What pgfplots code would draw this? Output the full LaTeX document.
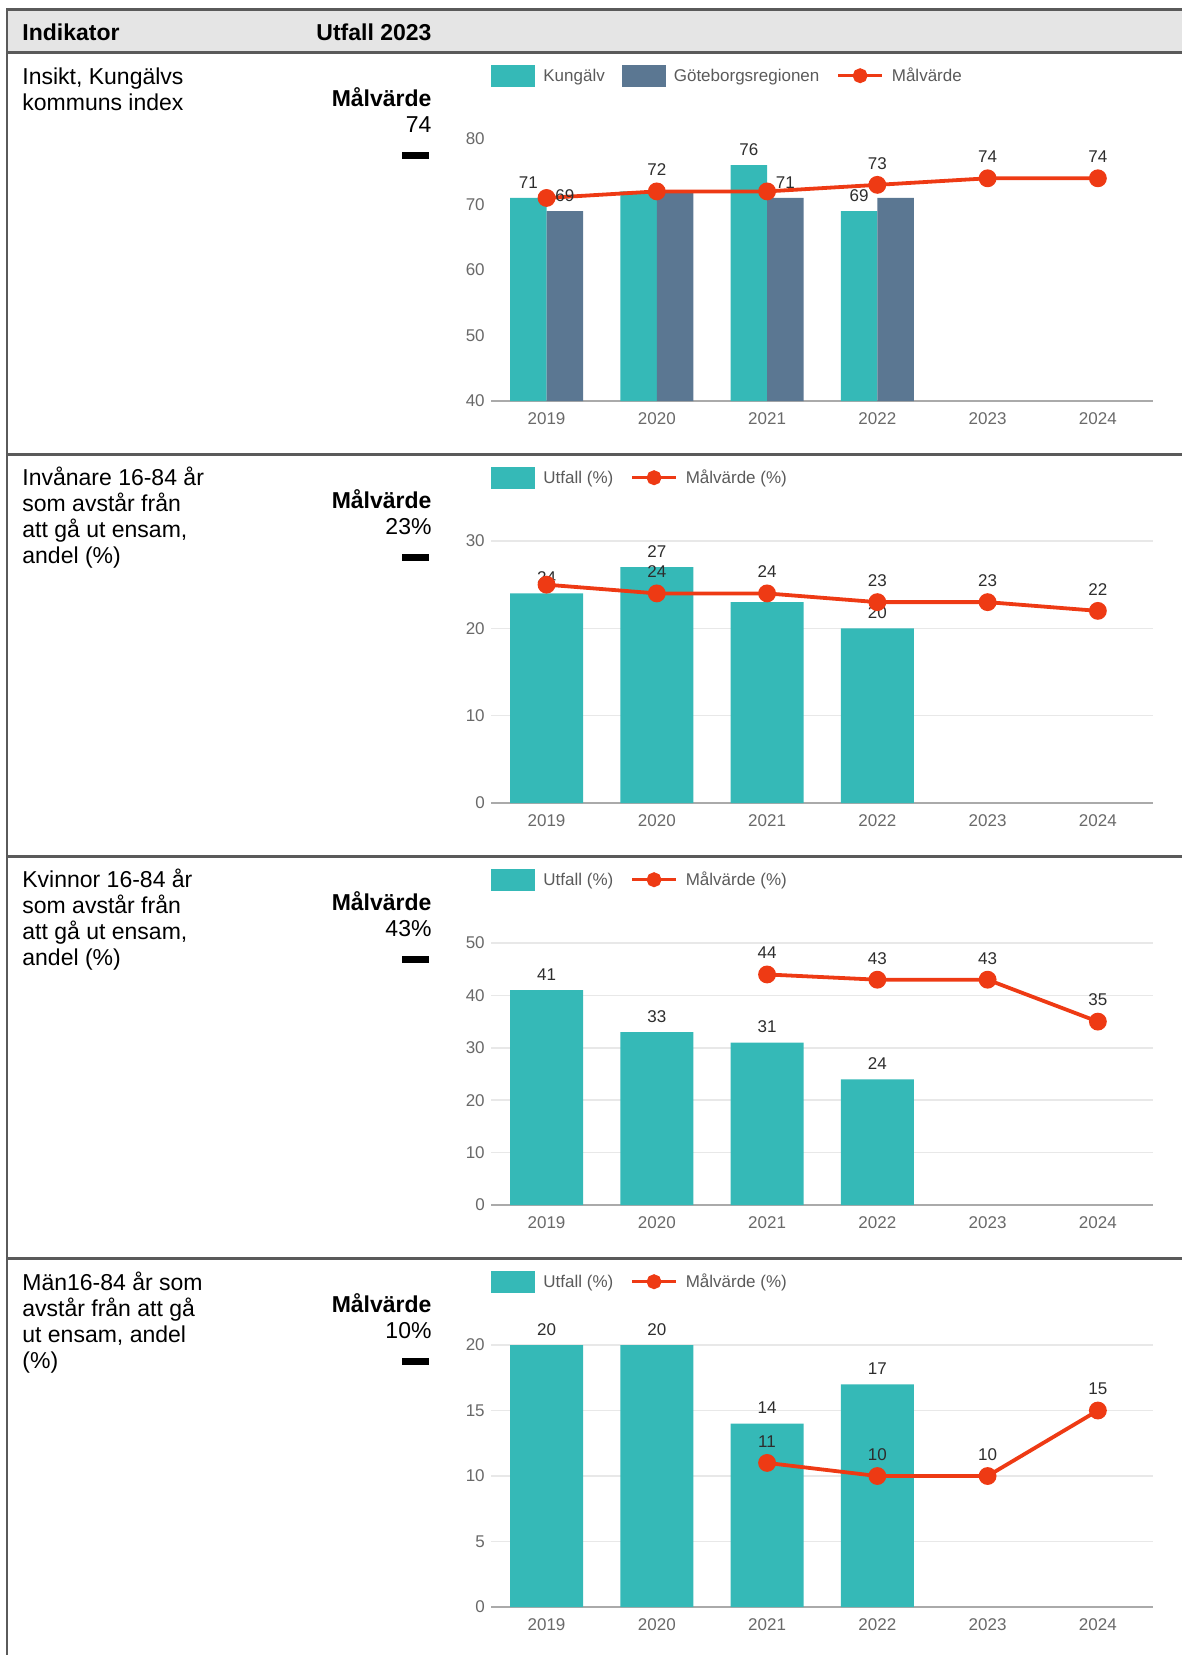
\documentclass[border=0pt]{standalone}
\usepackage{fontspec}
\setmainfont{Liberation Sans}
\usepackage{pgfplots}
\pgfplotsset{compat=1.18}
\definecolor{tealc}{RGB}{53,185,183}
\definecolor{slatec}{RGB}{91,119,146}
\definecolor{redc}{RGB}{238,58,20}
\definecolor{hdrfill}{RGB}{229,229,229}
\definecolor{bordc}{RGB}{90,90,90}
\definecolor{tickc}{RGB}{105,105,105}
\definecolor{lblc}{RGB}{45,45,45}
\definecolor{legc}{RGB}{90,90,90}
\definecolor{gridc}{RGB}{232,232,232}
\definecolor{axc}{RGB}{170,170,170}
\newcommand\tfont{\fontsize{23}{26}\selectfont}
\newcommand\cfont{\fontsize{17}{20}\selectfont}
\pgfplotsset{
  rowchart/.style={
    scale only axis, width=661.6pt, height=262pt,
    anchor=south west,
    xmin=-0.5, xmax=5.5,
    xtick={0,1,2,3,4,5},
    xticklabels={2019,2020,2021,2022,2023,2024},
    separate axis lines,
    axis x line*=bottom, axis y line*=left,
    y axis line style={draw=none},
    x axis line style={draw=axc, line width=2pt, -},
    major tick length=0pt,
    tick style={draw=none},
    tick label style={font=\cfont, text=tickc, inner sep=0pt},
    xticklabel style={anchor=center, yshift=-17.3pt},
    yticklabel style={anchor=east, xshift=-6.5pt},
    /pgf/number format/assume math mode=true,
    clip=false,
    legend style={draw=none, fill=none, inner sep=0pt, outer sep=0pt,
      at={(0,1)}, anchor=west, yshift=63.3pt, font=\cfont, text=legc,
      column sep=8pt, /tikz/every even column/.append style={column sep=17pt},
      nodes={inner sep=0pt}},
    legend columns=-1,
    legend cell align=left,
    point meta=explicit symbolic,
    nodes near coords={\pgfplotspointmeta},
    every node near coord/.append style={font=\cfont, text=lblc, inner sep=0pt},
  },
  gridded/.style={ymajorgrids, grid style={draw=gridc, line width=1.5pt}},
  barplot/.style={ybar, fill=#1, draw=none,
     nodes near coords align={center},
     every node near coord/.append style={yshift=15.5pt},
     legend image code/.code={\fill[#1] (0pt,-11pt) rectangle (44pt,11pt);}},
  lineplot/.style={color=redc, line width=3.8pt, mark=*, mark size=7pt,
     mark options={solid, fill=redc, draw=none},
     nodes near coords align={center},
     every node near coord/.append style={yshift=21.5pt},
     legend image code/.code={\draw[redc, line width=3.5pt] (0pt,0pt) -- (44pt,0pt); \fill[redc] (22pt,0pt) circle (5.5pt);}},
}
\begin{document}
\begin{tikzpicture}
\useasboundingbox (0pt,0pt) rectangle (1182pt,-1655pt);
% table frame
\fill[hdrfill] (7pt,-9.3pt) rectangle (1190pt,-52.5pt);
\draw[bordc, line width=2.5pt] (7pt,-9.3pt) -- (1190pt,-9.3pt);
\draw[bordc, line width=2.5pt] (7pt,-52.5pt) -- (1190pt,-52.5pt);
\draw[bordc, line width=2.5pt] (7pt,-454.5pt) -- (1190pt,-454.5pt);
\draw[bordc, line width=2.5pt] (7pt,-856.5pt) -- (1190pt,-856.5pt);
\draw[bordc, line width=2.5pt] (7pt,-1258.5pt) -- (1190pt,-1258.5pt);
\draw[bordc, line width=2.5pt] (7pt,-8pt) -- (7pt,-1670pt);
% header
\node[anchor=base west, inner sep=0pt, font=\tfont\bfseries] at (22.2pt,-40pt) {Indikator};
\node[anchor=base east, inner sep=0pt, font=\tfont\bfseries] at (431.7pt,-40pt) {Utfall 2023};
% row 1
\node[anchor=base west, inner sep=0pt, font=\tfont] at (22.2pt,-84.7pt) {Insikt, Kungälvs};
\node[anchor=base west, inner sep=0pt, font=\tfont] at (22.2pt,-110.7pt) {kommuns index};
\node[anchor=base east, inner sep=0pt, font=\tfont\bfseries] at (431.7pt,-106.2pt) {Målvärde};
\node[anchor=base east, inner sep=0pt, font=\tfont] at (431.7pt,-132.7pt) {74};
\fill (401.8pt,-152pt) rectangle (428.6pt,-158.6pt);
% row 2
\node[anchor=base west, inner sep=0pt, font=\tfont] at (22.2pt,-485.6pt) {Invånare 16-84 år};
\node[anchor=base west, inner sep=0pt, font=\tfont] at (22.2pt,-511.6pt) {som avstår från};
\node[anchor=base west, inner sep=0pt, font=\tfont] at (22.2pt,-537.6pt) {att gå ut ensam,};
\node[anchor=base west, inner sep=0pt, font=\tfont] at (22.2pt,-563.6pt) {andel (\%)};
\node[anchor=base east, inner sep=0pt, font=\tfont\bfseries] at (431.7pt,-508.2pt) {Målvärde};
\node[anchor=base east, inner sep=0pt, font=\tfont] at (431.7pt,-534.7pt) {23\%};
\fill (401.8pt,-554pt) rectangle (428.6pt,-560.6pt);
% row 3
\node[anchor=base west, inner sep=0pt, font=\tfont] at (22.2pt,-887.6pt) {Kvinnor 16-84 år};
\node[anchor=base west, inner sep=0pt, font=\tfont] at (22.2pt,-913.6pt) {som avstår från};
\node[anchor=base west, inner sep=0pt, font=\tfont] at (22.2pt,-939.6pt) {att gå ut ensam,};
\node[anchor=base west, inner sep=0pt, font=\tfont] at (22.2pt,-965.6pt) {andel (\%)};
\node[anchor=base east, inner sep=0pt, font=\tfont\bfseries] at (431.7pt,-910.2pt) {Målvärde};
\node[anchor=base east, inner sep=0pt, font=\tfont] at (431.7pt,-936.7pt) {43\%};
\fill (401.8pt,-956pt) rectangle (428.6pt,-962.6pt);
% row 4
\node[anchor=base west, inner sep=0pt, font=\tfont] at (22.2pt,-1290.7pt) {Män16-84 år som};
\node[anchor=base west, inner sep=0pt, font=\tfont] at (22.2pt,-1316.7pt) {avstår från att gå};
\node[anchor=base west, inner sep=0pt, font=\tfont] at (22.2pt,-1342.7pt) {ut ensam, andel};
\node[anchor=base west, inner sep=0pt, font=\tfont] at (22.2pt,-1368.7pt) {(\%)};
\node[anchor=base east, inner sep=0pt, font=\tfont\bfseries] at (431.7pt,-1312.2pt) {Målvärde};
\node[anchor=base east, inner sep=0pt, font=\tfont] at (431.7pt,-1338.7pt) {10\%};
\fill (401.8pt,-1358pt) rectangle (428.6pt,-1364.6pt);

% chart 1
\begin{axis}[rowchart, at={(491.4pt,-401pt)}, ymin=40, ymax=80, ytick={40,50,60,70,80}]
\addplot[barplot=tealc, bar width=36.5pt, bar shift=-18.25pt,
  every node near coord/.append style={xshift=-18.25pt}] coordinates {(0,71) [71] (1,72) [{}] (2,76) [76] (3,69) [69]};
\addlegendentry{Kungälv}
\addplot[barplot=slatec, bar width=36.5pt, bar shift=18.25pt,
  every node near coord/.append style={xshift=18.25pt}] coordinates {(0,69) [69] (1,72) [{}] (2,71) [71] (3,71) [{}]};
\addlegendentry{Göteborgsregionen}
\addplot[lineplot] coordinates {(0,71) [{}] (1,72) [72] (2,72) [{}] (3,73) [73] (4,74) [74] (5,74) [74]};
\addlegendentry{Målvärde}
\end{axis}

% chart 2
\begin{axis}[rowchart, gridded, at={(491.4pt,-803pt)}, ymin=0, ymax=30, ytick={0,10,20,30}]
\addplot[barplot=tealc, bar width=73pt, bar shift=0pt] coordinates {(0,24) [24] (1,27) [27] (2,23) [{}] (3,20) [20]};
\addlegendentry{Utfall (\%)}
\addplot[lineplot] coordinates {(0,25) [{}] (1,24) [24] (2,24) [24] (3,23) [23] (4,23) [23] (5,22) [22]};
\addlegendentry{Målvärde (\%)}
\end{axis}

% chart 3
\begin{axis}[rowchart, gridded, at={(491.4pt,-1205pt)}, ymin=0, ymax=50, ytick={0,10,20,30,40,50}]
\addplot[barplot=tealc, bar width=73pt, bar shift=0pt] coordinates {(0,41) [41] (1,33) [33] (2,31) [31] (3,24) [24]};
\addlegendentry{Utfall (\%)}
\addplot[lineplot] coordinates {(2,44) [44] (3,43) [43] (4,43) [43] (5,35) [35]};
\addlegendentry{Målvärde (\%)}
\end{axis}

% chart 4
\begin{axis}[rowchart, gridded, at={(491.4pt,-1607pt)}, ymin=0, ymax=20, ytick={0,5,10,15,20}]
\addplot[barplot=tealc, bar width=73pt, bar shift=0pt] coordinates {(0,20) [20] (1,20) [20] (2,14) [14] (3,17) [17]};
\addlegendentry{Utfall (\%)}
\addplot[lineplot] coordinates {(2,11) [11] (3,10) [10] (4,10) [10] (5,15) [15]};
\addlegendentry{Målvärde (\%)}
\end{axis}
\end{tikzpicture}
\end{document}
